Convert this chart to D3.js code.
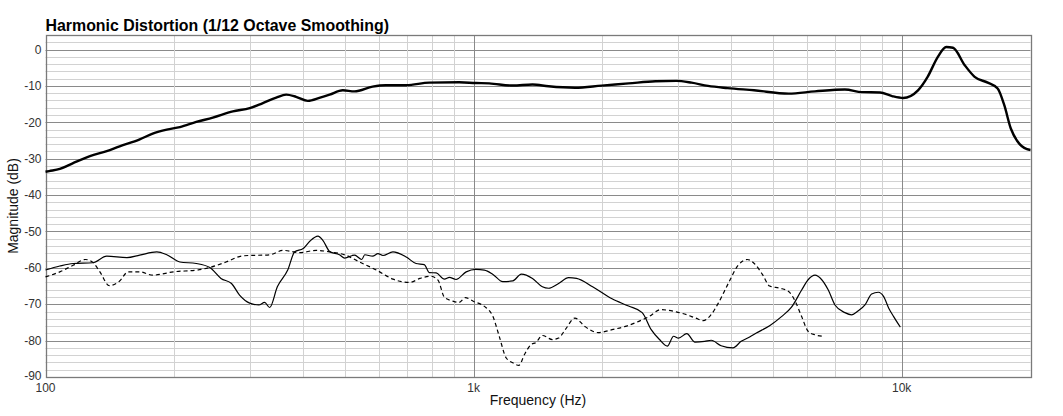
<!DOCTYPE html>
<html>
<head>
<meta charset="utf-8">
<script src="https://cdn.jsdelivr.net/npm/d3@7"></script>
<style>
  body { margin: 0; background: #fff; }
  text { font-family: "Liberation Sans", Arial, sans-serif; }
  .tick-label { font-size: 12px; fill: #333; }
  .axis-title { font-size: 14px; fill: #111; }
  .title { font-size: 15.9px; font-weight: bold; fill: #000; }
</style>
</head>
<body>
<div id="chart"></div>
<script>
// fundamental (thick solid)
var fundFreq = [100, 102, 108, 116, 127, 139, 149, 166, 178, 192, 206, 225, 246, 274, 300, 322, 346, 365, 385, 410, 438, 461, 495, 527, 581, 623, 696, 788, 925, 1012, 1088, 1235, 1373, 1497, 1725, 1993, 2302, 2660, 2975, 3230, 3530, 3920, 4520, 5445, 6275, 7370, 8070, 8900, 9500, 10080, 10920, 11500, 12150, 12710, 13180, 14040, 14810, 15890, 16760, 17370, 17990, 18640, 19620, 20000];
var fundMag = [-33.6, -33.4, -32.8, -31.2, -29.3, -27.9, -26.6, -24.7, -23.1, -22, -21.3, -19.9, -18.7, -17, -16.1, -14.7, -13.2, -12.4, -13, -14.1, -13.2, -12.4, -11.2, -11.5, -10.2, -9.8, -9.8, -9.1, -9, -9.2, -9.3, -9.9, -9.6, -10.1, -10.5, -9.9, -9.3, -8.7, -8.6, -9.1, -10, -10.6, -11.2, -12.1, -11.5, -11, -11.7, -11.8, -12.8, -13.3, -11.2, -7.5, -2, 0.7, 0.5, -4.3, -7.5, -9.1, -10.7, -15.3, -21.7, -25.2, -27.4, -27.6];

// 2nd harmonic (thin solid)
var h2Freq = [100, 108, 116, 129, 139, 155, 166, 182, 192, 206, 225, 242, 257, 272, 284, 300, 315, 325, 334, 348, 368, 382, 400, 415, 433, 445, 461, 486, 500, 527, 548, 557, 581, 598, 614, 648, 696, 734, 767, 788, 818, 855, 878, 910, 961, 1012, 1060, 1110, 1170, 1235, 1293, 1373, 1448, 1497, 1580, 1667, 1740, 1897, 2106, 2302, 2477, 2600, 2718, 2835, 2933, 3012, 3148, 3290, 3466, 3590, 3787, 4036, 4218, 4415, 4577, 4916, 5240, 5530, 5840, 6054, 6275, 6500, 6740, 6986, 7370, 7640, 7920, 8210, 8510, 8820, 9080, 9330, 9580, 9930];
var h2Mag = [-60.6, -59.5, -58.8, -58.6, -56.8, -57.2, -56.5, -55.6, -56.4, -58.4, -58.8, -59.9, -62.9, -64.3, -67.5, -69.7, -70.2, -69.5, -70.9, -65.2, -60.6, -55.6, -54.7, -52.6, -51.3, -52.5, -55.5, -56.4, -57.3, -56.5, -57.7, -56.4, -56.8, -56.1, -56.6, -55.6, -57, -58.8, -59.1, -61.3, -61.4, -63.1, -62.6, -63.2, -61.1, -60.4, -60.6, -61.8, -63.8, -63.6, -61.7, -62.9, -65.2, -65.6, -64.3, -62.7, -62.9, -65.2, -68.5, -70.5, -72.3, -77, -79.7, -81.5, -78.8, -79.3, -78.1, -80.4, -80.2, -79.9, -81.4, -82, -80.2, -79, -77.9, -75.9, -73.4, -70.8, -66.1, -63.2, -62, -63.2, -66.1, -70.2, -72.3, -72.9, -71.8, -70.2, -67.2, -66.7, -67.9, -71.1, -73.4, -76.3];

// 3rd harmonic (thin dashed)
var h3Freq = [100, 108, 116, 124, 129, 134, 141, 149, 156, 166, 178, 199, 229, 242, 264, 289, 334, 359, 392, 429, 461, 502, 542, 593, 648, 709, 750, 795, 826, 855, 893, 925, 956, 1003, 1060, 1110, 1148, 1191, 1235, 1276, 1315, 1362, 1399, 1448, 1528, 1580, 1637, 1725, 1820, 1955, 2106, 2262, 2432, 2570, 2734, 2975, 3148, 3300, 3440, 3570, 3730, 3935, 4150, 4360, 4525, 4740, 4916, 5200, 5445, 5648, 5840, 6054, 6275, 6570];
var h3Mag = [-62.5, -61.1, -59.3, -57.7, -58.5, -61.1, -64.9, -63.6, -61.1, -61.1, -62, -61.1, -60.5, -59.9, -58.4, -56.7, -56.4, -55.2, -55.8, -55.2, -55.6, -56.5, -58.4, -60.6, -63.1, -64, -62.9, -62.3, -63.4, -68.1, -69.1, -69.5, -68.2, -69.3, -70.6, -73.4, -78.8, -84.7, -86.1, -86.8, -83.8, -81.1, -80.5, -78.6, -79.7, -79.3, -77, -73.8, -76.1, -77.8, -77, -76.1, -74.7, -73.4, -71.5, -72.1, -72.9, -73.8, -74.5, -73.2, -69.7, -64.3, -59.3, -57.7, -58.8, -62, -65, -65.6, -66.5, -69.3, -73.4, -77.5, -78.4, -78.8];

var yTicks = [0, -10, -20, -30, -40, -50, -60, -70, -80, -90];
var xTicks = [100, 1000, 10000];
var xTickLabels = ['100', '1k', '10k'];

var width = 1063, height = 416;
var margin = {left: 45.5, right: 32.5, top: 35, bottom: 39};

var svg = d3.select('#chart').append('svg')
  .attr('width', width)
  .attr('height', height);

var x = d3.scaleLog()
  .domain([100, 20000])
  .range([margin.left, width - margin.right]);

var y = d3.scaleLinear()
  .domain([-90, 4])
  .range([height - margin.bottom, margin.top]);

var grid = svg.append('g').attr('class', 'grid');

// horizontal grid, every 2 dB
d3.range(-88, 4, 2).forEach(function(v) {
  var major = v % 10 === 0;
  grid.append('line')
    .attr('x1', x(100)).attr('x2', x(20000))
    .attr('y1', Math.round(y(v)) + 0.5).attr('y2', Math.round(y(v)) + 0.5)
    .attr('stroke', major ? '#8a8a8a' : '#d2d2d2')
    .attr('stroke-width', 1);
});

// vertical grid
var minorFreqs = [];
[100, 1000, 10000].forEach(function(dec) {
  for (var k = 2; k <= 9; k++) {
    if (dec * k < 20000) minorFreqs.push(dec * k);
  }
});
minorFreqs.forEach(function(f) {
  grid.append('line')
    .attr('x1', Math.round(x(f)) + 0.5).attr('x2', Math.round(x(f)) + 0.5)
    .attr('y1', y(4)).attr('y2', y(-90))
    .attr('stroke', '#d2d2d2');
});
[1000, 10000].forEach(function(f) {
  grid.append('line')
    .attr('x1', Math.round(x(f)) + 0.5).attr('x2', Math.round(x(f)) + 0.5)
    .attr('y1', y(4)).attr('y2', y(-90))
    .attr('stroke', '#8a8a8a');
});

// frame
svg.append('rect')
  .attr('x', Math.round(x(100)) + 0.5)
  .attr('y', Math.round(y(4)) + 0.5)
  .attr('width', Math.round(x(20000)) - Math.round(x(100)))
  .attr('height', Math.round(y(-90)) - Math.round(y(4)))
  .attr('fill', 'none')
  .attr('stroke', '#7a7a7a')
  .attr('stroke-width', 1.3);

// tick labels
svg.selectAll('text.ylab').data(yTicks)
  .enter().append('text')
  .attr('class', 'tick-label ylab')
  .attr('x', margin.left - 4)
  .attr('y', function(d) { return d === -90 ? y(d) - 1.5 : y(d); })
  .attr('dy', '0.35em')
  .attr('text-anchor', 'end')
  .text(function(d) { return d; });

svg.selectAll('text.xlab').data(xTicks)
  .enter().append('text')
  .attr('class', 'tick-label xlab')
  .attr('x', function(d) { return x(d); })
  .attr('y', y(-90) + 15)
  .attr('text-anchor', 'middle')
  .text(function(d, i) { return xTickLabels[i]; });

// titles
svg.append('text')
  .attr('class', 'title')
  .attr('x', margin.left)
  .attr('y', 31)
  .text('Harmonic Distortion (1/12 Octave Smoothing)');

svg.append('text')
  .attr('class', 'axis-title')
  .attr('x', (x(100) + x(20000)) / 2)
  .attr('y', 405)
  .attr('text-anchor', 'middle')
  .text('Frequency (Hz)');

svg.append('text')
  .attr('class', 'axis-title')
  .attr('transform', 'translate(18,' + (y(4) + y(-90)) / 2 + ') rotate(-90)')
  .attr('text-anchor', 'middle')
  .text('Magnitude (dB)');

// curves
function toPoints(freqs, mags) {
  return freqs.map(function(f, i) { return [f, mags[i]]; });
}

var line = d3.line()
  .x(function(d) { return x(d[0]); })
  .y(function(d) { return y(d[1]); })
  .curve(d3.curveMonotoneX);

var curves = svg.append('g').attr('class', 'curves');

curves.append('path')
  .attr('d', line(toPoints(h3Freq, h3Mag)))
  .attr('fill', 'none')
  .attr('stroke', '#000')
  .attr('stroke-width', 1.2)
  .attr('stroke-dasharray', '4,3');

curves.append('path')
  .attr('d', line(toPoints(h2Freq, h2Mag)))
  .attr('fill', 'none')
  .attr('stroke', '#000')
  .attr('stroke-width', 1.2);

curves.append('path')
  .attr('d', line(toPoints(fundFreq, fundMag)))
  .attr('fill', 'none')
  .attr('stroke', '#000')
  .attr('stroke-width', 2.4);
</script>
</body>
</html>
